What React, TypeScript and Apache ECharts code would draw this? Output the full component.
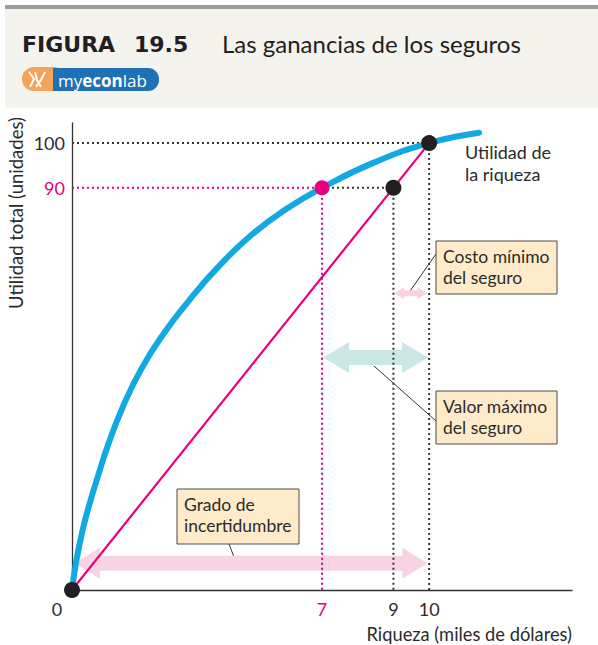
import React, { useEffect, useRef } from "react";
import * as echarts from "echarts";

// ---- data ----
const curveX = [0, 0.12, 0.3, 0.5, 0.74, 1.02, 1.44, 1.95, 2.56, 3.26, 4.05, 4.99, 6.01, 7, 8.5, 10, 11.4];
const curveU = [0, 6.5, 13.5, 19.5, 25.8, 32.7, 41.3, 49.6, 57.3, 64.6, 71.9, 79.2, 85.3, 90, 95.8, 100, 102.3];
const lineX = [0, 10];
const lineU = [0, 100];
const blackPoints = [[0, 0], [9, 90], [10, 100]];
const pinkPoints = [[7, 90]];
const xTicks = [0, 7, 9, 10];
const yTicks = [90, 100];
// dotted guides: [x1, y1, x2, y2]
const blackGuides = [
  [0, 100, 10, 100],
  [10, 100, 10, 0],
  [7, 90, 9, 90],
  [9, 90, 9, 0],
];
const pinkGuides = [
  [0, 90, 7, 90],
  [7, 90, 7, 0],
];
// arrows: [xStart, xEnd, y]
const arrowSpans = [
  [0.08, 9.95, 6],
  [7.03, 9.97, 52],
  [9.02, 9.95, 66.4],
];

const PINK = "#e6007e";
const BLUE = "#12a8e2";
const DARK = "#2b2b2b";
const FONT = "Lato";

const arrowStyles = [
  { fill: "#f8d3e3", shaft: 7.5, head: 15.5, len: 25 },
  { fill: "#c9e8e5", shaft: 7.5, head: 15.5, len: 26 },
  { fill: "#f8d3e3", shaft: 3, head: 6, len: 10 },
];

export default function App() {
  const ref = useRef<HTMLDivElement>(null);
  useEffect(() => {
    if (!ref.current) return;
    const chart = echarts.init(ref.current, undefined, { renderer: "svg" });

    const guideSeries = (g: number[][], color: string) =>
      g.map((s) => ({
        type: "line",
        data: [
          [s[0], s[1]],
          [s[2], s[3]],
        ],
        symbol: "none",
        z: 3,
        silent: true,
        lineStyle: { color, width: 2, type: [2, 3] },
      }));

    const calloutBox = (x: number, y: number, w: number, h: number, text: string) => ({
      type: "group",
      children: [
        {
          type: "rect",
          shape: { x, y, width: w, height: h },
          style: { fill: "#fdebc9", stroke: "#4a4a4a", lineWidth: 1 },
        },
        {
          type: "text",
          x: x + 7,
          y: y + 5,
          style: {
            text,
            fontFamily: FONT,
            fontSize: 17.5,
            lineHeight: 21,
            fill: DARK,
          },
        },
      ],
    });

    const option: any = {
      animation: false,
      backgroundColor: "#ffffff",
      grid: { left: 72, right: 26, top: 123, bottom: 55, containLabel: false },
      xAxis: {
        type: "value",
        min: 0,
        max: 14,
        axisLine: { show: true, onZero: false, lineStyle: { color: "#333", width: 1.3 } },
        axisTick: { show: false },
        splitLine: { show: false },
        axisLabel: {
          customValues: xTicks,
          margin: 10,
          fontFamily: FONT,
          fontSize: 18,
          formatter: (v: number) => (v === 7 ? `{p|${v}}` : v === 0 ? `{z|${v}}` : `{d|${v}}`),
          rich: {
            p: { color: PINK, fontFamily: FONT, fontSize: 18 },
            d: { color: DARK, fontFamily: FONT, fontSize: 18 },
            z: { color: DARK, fontFamily: FONT, fontSize: 18, padding: [0, 30, 0, 0] },
          },
        },
      },
      yAxis: {
        type: "value",
        min: 0,
        max: 104.5,
        axisLine: { show: true, onZero: false, lineStyle: { color: "#333", width: 1.3 } },
        axisTick: { show: false },
        splitLine: { show: false },
        axisLabel: {
          customValues: yTicks,
          margin: 7,
          fontFamily: FONT,
          fontSize: 18,
          formatter: (v: number) => (v === 90 ? `{p|${v}}` : `{d|${v}}`),
          rich: {
            p: { color: PINK, fontFamily: FONT, fontSize: 18 },
            d: { color: DARK, fontFamily: FONT, fontSize: 18 },
          },
        },
      },
      series: [
        {
          type: "custom",
          z: 1,
          silent: true,
          data: arrowSpans,
          encode: { x: [0, 1], y: 2 },
          renderItem: (params: any, api: any) => {
            const i = params.dataIndex;
            const st = arrowStyles[i];
            const p1 = api.coord([api.value(0), api.value(2)]);
            const p2 = api.coord([api.value(1), api.value(2)]);
            const y = p1[1];
            const x1 = p1[0];
            const x2 = p2[0];
            return {
              type: "polygon",
              shape: {
                points: [
                  [x1, y],
                  [x1 + st.len, y - st.head],
                  [x1 + st.len, y - st.shaft],
                  [x2 - st.len, y - st.shaft],
                  [x2 - st.len, y - st.head],
                  [x2, y],
                  [x2 - st.len, y + st.head],
                  [x2 - st.len, y + st.shaft],
                  [x1 + st.len, y + st.shaft],
                  [x1 + st.len, y + st.head],
                ],
              },
              style: { fill: st.fill },
            };
          },
        },
        ...guideSeries(blackGuides, "#333"),
        ...guideSeries(pinkGuides, PINK),
        {
          type: "line",
          z: 4,
          data: lineX.map((x, i) => [x, lineU[i]]),
          symbol: "none",
          lineStyle: { color: PINK, width: 2.2 },
        },
        {
          type: "line",
          z: 5,
          data: curveX.map((x, i) => [x, curveU[i]]),
          symbol: "none",
          smooth: 0.5,
          lineStyle: { color: BLUE, width: 6, cap: "round", join: "round" },
        },
        {
          type: "scatter",
          z: 6,
          data: blackPoints,
          symbolSize: 16,
          itemStyle: { color: "#231f20", opacity: 1 },
        },
        {
          type: "scatter",
          z: 6,
          data: pinkPoints,
          symbolSize: 15,
          itemStyle: { color: PINK, opacity: 1 },
        },
      ],
      graphic: [
        // header
        { type: "rect", shape: { x: 5, y: 9, width: 593, height: 99 }, style: { fill: "#f5f3ed" }, z: -1 },
        { type: "rect", shape: { x: 5, y: 5, width: 593, height: 4 }, style: { fill: "#9b9b9b" } },
        {
          type: "text",
          x: 22,
          y: 44,
          style: {
            text: "FIGURA",
            fontFamily: "DejaVu Sans",
            fontWeight: "bold",
            fontSize: 22,
            fill: "#231f20",
            verticalAlign: "middle",
          },
        },
        {
          type: "text",
          x: 134,
          y: 44,
          style: {
            text: "19.5",
            fontFamily: "DejaVu Sans",
            fontWeight: "bold",
            fontSize: 22,
            fill: "#231f20",
            verticalAlign: "middle",
          },
        },
        {
          type: "text",
          x: 222,
          y: 43,
          style: {
            text: "Las ganancias de los seguros",
            fontFamily: FONT,
            fontSize: 24,
            fill: "#231f20",
            verticalAlign: "middle",
          },
        },
        // logo
        { type: "rect", shape: { x: 22, y: 67, width: 44, height: 24, r: 12 }, style: { fill: "#f4a25c" } },
        { type: "rect", shape: { x: 53, y: 68, width: 106, height: 23, r: [0, 11, 11, 0] }, style: { fill: "#1d71b4" } },
        { type: "polyline", shape: { points: [[29, 72], [34, 79], [30, 87]] }, style: { stroke: "#fff", lineWidth: 2, fill: "none" } },
        { type: "polyline", shape: { points: [[35, 72], [37, 80], [41, 87]] }, style: { stroke: "#fff", lineWidth: 2, fill: "none" } },
        { type: "polyline", shape: { points: [[45, 72], [41, 80], [36, 87]] }, style: { stroke: "#fff", lineWidth: 2, fill: "none" } },
        {
          type: "text",
          x: 58,
          y: 80,
          style: {
            text: "{a|my}{b|econ}{a|lab}",
            verticalAlign: "middle",
            rich: {
              a: { fontFamily: "Open Sans", fontSize: 17, fill: "#fff", color: "#fff" },
              b: { fontFamily: "Open Sans", fontSize: 17, fontWeight: "bold", fill: "#fff", color: "#fff" },
            },
          },
        },
        // axis titles
        {
          type: "text",
          x: 16,
          y: 213,
          rotation: Math.PI / 2,
          style: {
            text: "Utilidad total (unidades)",
            fontFamily: FONT,
            fontSize: 18.5,
            fill: DARK,
            align: "center",
            verticalAlign: "middle",
          },
        },
        {
          type: "text",
          x: 572,
          y: 634,
          style: {
            text: "Riqueza (miles de dólares)",
            fontFamily: FONT,
            fontSize: 18.3,
            fill: DARK,
            align: "right",
            verticalAlign: "middle",
          },
        },
        // curve label
        {
          type: "text",
          x: 465,
          y: 141,
          style: {
            text: "Utilidad de\nla riqueza",
            fontFamily: FONT,
            fontSize: 18,
            lineHeight: 22,
            fill: DARK,
          },
        },
        // leader lines
        { type: "line", shape: { x1: 410, y1: 291, x2: 436, y2: 254 }, style: { stroke: "#333", lineWidth: 1 } },
        { type: "line", shape: { x1: 374, y1: 366, x2: 436, y2: 421 }, style: { stroke: "#333", lineWidth: 1 } },
        { type: "line", shape: { x1: 229, y1: 544, x2: 234, y2: 557 }, style: { stroke: "#333", lineWidth: 1 } },
        // callouts
        calloutBox(436, 241, 121, 53, "Costo mínimo\ndel seguro"),
        calloutBox(436, 391, 121, 53, "Valor máximo\ndel seguro"),
        calloutBox(177, 489, 122, 55, "Grado de\nincertidumbre"),
      ],
    };
    chart.setOption(option);
    return () => chart.dispose();
  }, []);

  return (
    <div
      ref={ref}
      style={{ position: "fixed", left: 0, top: 0, width: 598, height: 645, background: "#fff" }}
    />
  );
}
